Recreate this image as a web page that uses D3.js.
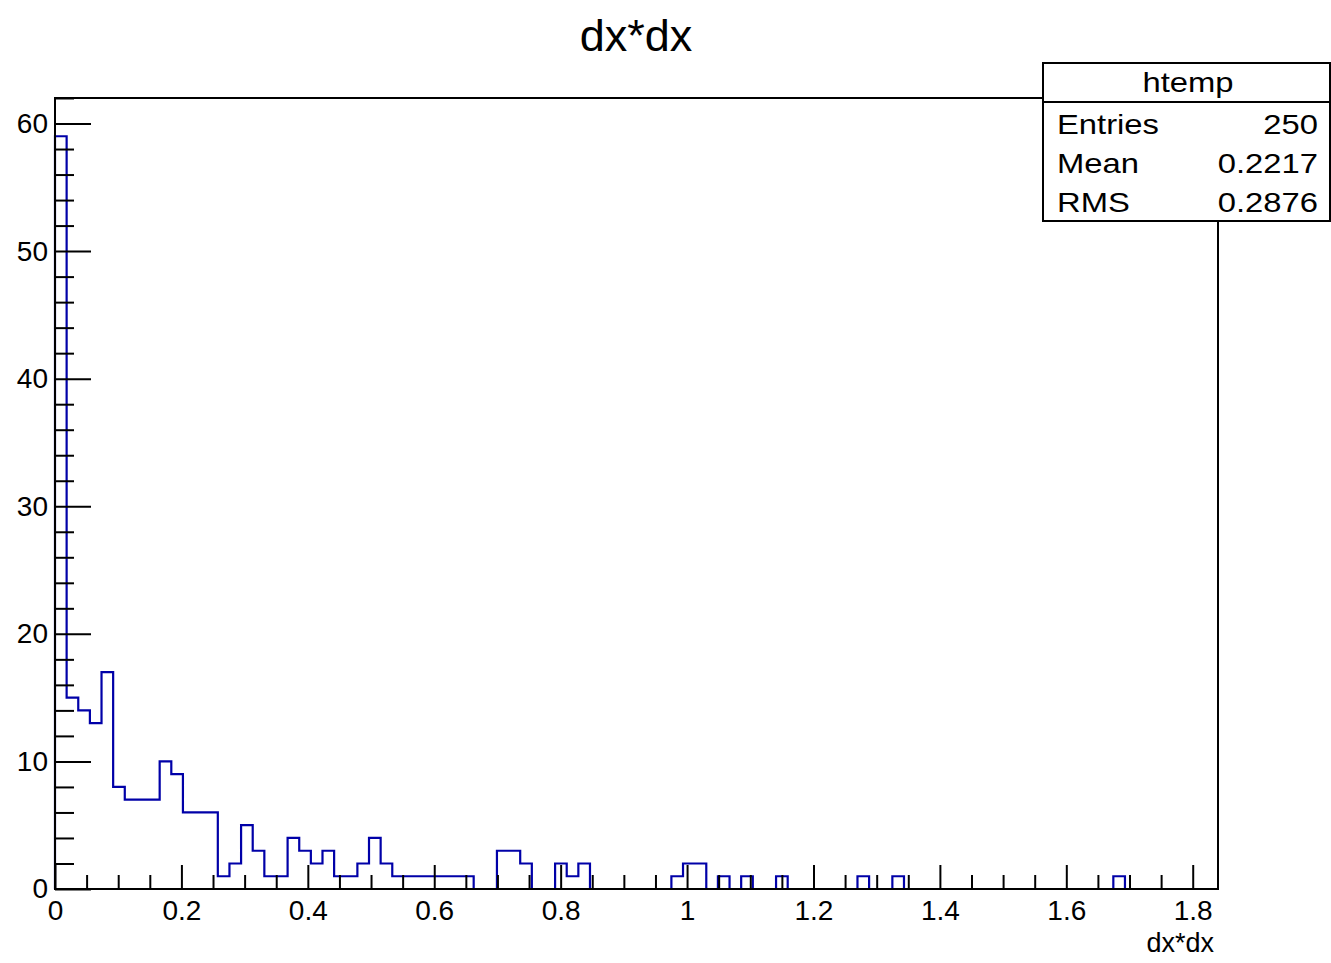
<!DOCTYPE html>
<html><head><meta charset="utf-8">
<script src="https://cdn.jsdelivr.net/npm/d3@7"></script>
<style>
body{margin:0;background:#fff;}
svg{display:block;font-family:"Liberation Sans",Arial,Helvetica,sans-serif;}
</style></head>
<body><svg id="c" width="1331" height="963"></svg>
<script>
// ---- data ----
const title = "dx*dx";
const xTitle = "dx*dx";
const xMin = 0, xMax = 1.84, nBins = 100;
const counts = [
 59,15,14,13,17,8,7,7,7,10,
 9,6,6,6,1,2,5,3,1,1,
 4,3,2,3,1,1,2,4,2,1,
 1,1,1,1,1,1,0,0,3,3,
 2,0,0,2,1,2,0,0,0,0,
 0,0,0,1,2,2,0,1,0,1,
 0,0,1,0,0,0,0,0,0,1,
 0,0,1,0,0,0,0,0,0,0,
 0,0,0,0,0,0,0,0,0,0,
 0,1,0,0,0,0,0,0,0,0];
const xTickLabels = ["0","0.2","0.4","0.6","0.8","1","1.2","1.4","1.6","1.8"];
const yTickLabels = ["0","10","20","30","40","50","60"];
const yMax = 62;
const statsName = "htemp";
const statsRows = [["Entries","250"],["Mean","0.2217"],["RMS","0.2876"]];

// ---- layout ----
const svg = d3.select("#c");
const L = 55, R = 1218, T = 98, B = 889;
const x = d3.scaleLinear().domain([xMin, xMax]).range([L, R]);
const y = d3.scaleLinear().domain([0, yMax]).range([B, T]);
const blue = "#0000a8";

// histogram outline
const bw = (xMax - xMin) / nBins;
const pts = [[xMin, 0]];
counts.forEach((c, i) => { pts.push([xMin + i * bw, c]); pts.push([xMin + (i + 1) * bw, c]); });
pts.push([xMax, 0]);
svg.append("path")
  .attr("d", d3.line().x(d => x(d[0])).y(d => y(d[1]))(pts))
  .attr("fill", "none").attr("stroke", blue).attr("stroke-width", 2.2);

// axes
const fs = 28;
const yMajor = yTickLabels.map(Number);
const yMinor = d3.range(0, yMax + 0.001, 2).filter(v => v % 10 !== 0);
const gy = svg.append("g").attr("transform", `translate(${L},0)`);
gy.call(d3.axisLeft(y).tickValues(yMajor).tickSize(-36).tickPadding(7).tickFormat((d, i) => yTickLabels[i]));
const gy2 = svg.append("g").attr("transform", `translate(${L},0)`);
gy2.call(d3.axisLeft(y).tickValues(yMinor).tickSize(-19).tickFormat(""));

const xMajor = xTickLabels.map(Number);
const xMinor = d3.range(0, 36).map(i => i * 0.05).filter((v, i) => i % 4 !== 0 && v <= xMax);
const gx = svg.append("g").attr("transform", `translate(0,${B})`);
gx.call(d3.axisBottom(x).tickValues(xMajor).tickSize(-24).tickPadding(11).tickFormat((d, i) => xTickLabels[i]));
const gx2 = svg.append("g").attr("transform", `translate(0,${B})`);
gx2.call(d3.axisBottom(x).tickValues(xMinor).tickSize(-14).tickFormat(""));

svg.selectAll(".domain").remove();
svg.selectAll(".tick line").attr("stroke", "#000").attr("stroke-width", 2);
svg.selectAll(".tick text").attr("font-size", fs).attr("fill", "#000")
  .attr("font-family", '"Liberation Sans",Arial,sans-serif');

// frame
svg.append("rect").attr("x", L).attr("y", T).attr("width", R - L).attr("height", B - T)
  .attr("fill", "none").attr("stroke", "#000").attr("stroke-width", 2);

// titles
svg.append("text").attr("x", 636).attr("y", 51).attr("text-anchor", "middle")
  .attr("font-size", 45).text(title);
svg.append("text").attr("x", 1214).attr("y", 952).attr("text-anchor", "end")
  .attr("font-size", 27).text(xTitle);

// stats box
const sx = 1043, sy = 63, sw = 287, sh = 158;
svg.append("rect").attr("x", sx).attr("y", sy).attr("width", sw).attr("height", sh)
  .attr("fill", "#fff").attr("stroke", "#000").attr("stroke-width", 2);
svg.append("line").attr("x1", sx).attr("x2", sx + sw).attr("y1", 102).attr("y2", 102)
  .attr("stroke", "#000").attr("stroke-width", 2);
const sc = 1.17;
svg.append("g").attr("transform", `translate(1188,92) scale(${sc},1)`)
  .append("text").attr("text-anchor", "middle").attr("font-size", fs).text(statsName);
const rowY = [134, 173, 212];
statsRows.forEach((r, i) => {
  svg.append("g").attr("transform", `translate(1057,${rowY[i]}) scale(${sc},1)`)
    .append("text").attr("font-size", fs).text(r[0]);
  svg.append("g").attr("transform", `translate(1318,${rowY[i]}) scale(${sc},1)`)
    .append("text").attr("text-anchor", "end").attr("font-size", fs).text(r[1]);
});
</script></body></html>
